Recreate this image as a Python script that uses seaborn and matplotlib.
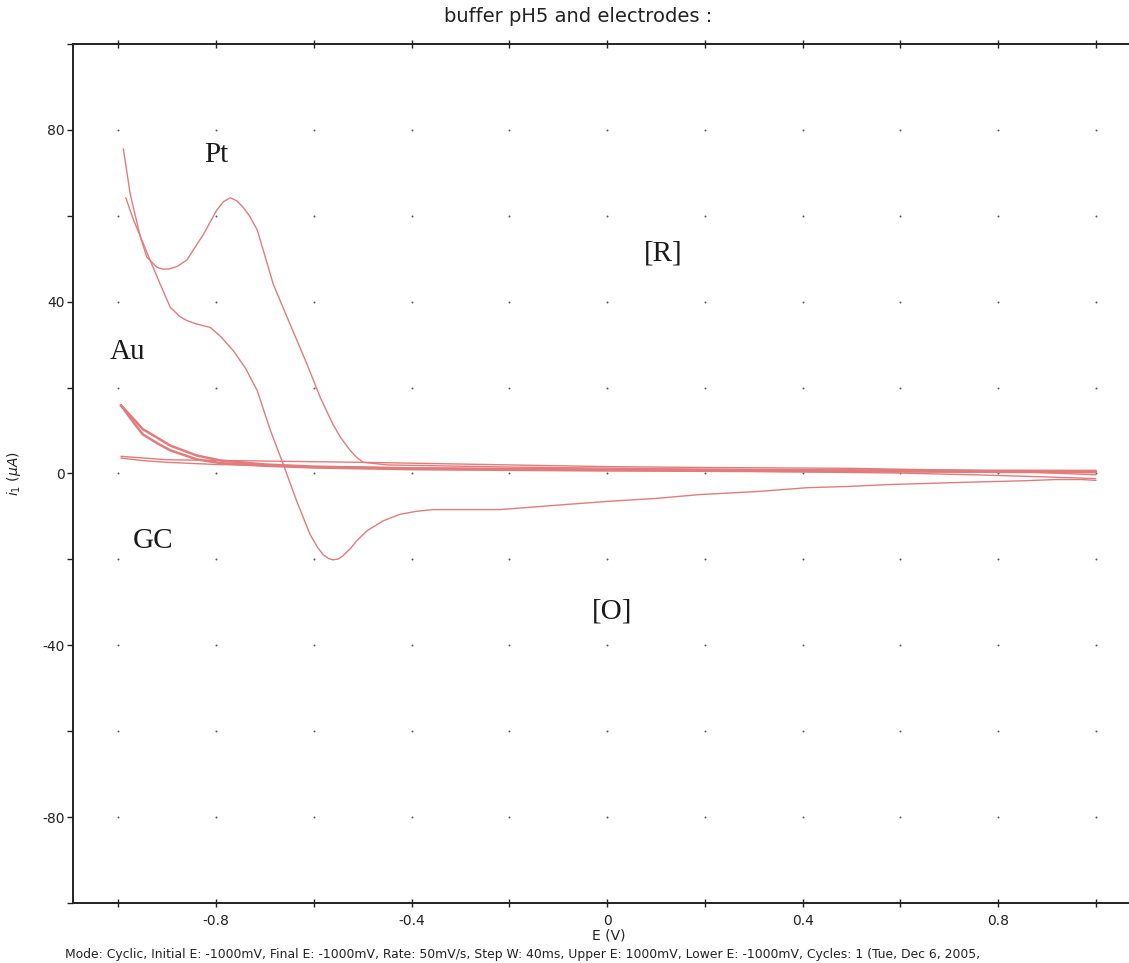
import numpy as np
import matplotlib
matplotlib.use("Agg")
import matplotlib.pyplot as plt
import seaborn as sns

# ---- cyclic voltammograms, buffer pH 5 (E in V, i in uA) ----
# Pt: anodic sweep (-1.0 -> +1.0 V)
pt_fwd_E = [-0.985, -0.969, -0.949, -0.935, -0.915, -0.894, -0.875, -0.860, -0.840,
            -0.812, -0.790, -0.765, -0.740, -0.716, -0.689, -0.662, -0.635, -0.608,
            -0.592, -0.581, -0.570, -0.561, -0.550, -0.540, -0.525, -0.512, -0.491,
            -0.458, -0.424, -0.390, -0.356, -0.219, -0.082, 0.0,
            0.10, 0.19, 0.307, 0.41, 0.497, 0.57, 0.716, 0.85, 0.92, 0.97, 1.0]
pt_fwd_i = [64.2, 59.0, 53.5, 49.6, 44.2, 38.7, 36.6, 35.6, 34.8,
            34.0, 31.8, 28.6, 24.5, 19.3, 10.0, 1.9, -6.5, -14.2,
            -17.3, -18.9, -19.8, -20.1, -19.9, -19.1, -17.4, -15.6, -13.3,
            -11.0, -9.5, -8.8, -8.4, -8.4, -7.2, -6.5,
            -5.8, -4.9, -4.2, -3.3, -3.0, -2.6, -2.1, -1.7, -1.4, -1.4, -1.6]
# Pt: cathodic sweep (+1.0 -> -1.0 V)
pt_rev_E = [1.0, 0.6, 0.2, -0.2, -0.45, -0.499, -0.512, -0.526, -0.545, -0.561,
            -0.587, -0.614, -0.649, -0.683, -0.716, -0.732, -0.745, -0.758, -0.771,
            -0.785, -0.799, -0.826, -0.860, -0.880, -0.897, -0.910, -0.921, -0.942,
            -0.955, -0.976, -0.990]
pt_rev_i = [0.4, 0.8, 1.0, 1.5, 2.0, 2.6, 3.7, 5.4, 8.3, 11.4,
            17.7, 25.4, 34.8, 44.0, 56.7, 60.0, 62.0, 63.5, 64.2,
            63.3, 61.3, 55.7, 49.7, 48.2, 47.6, 47.6, 48.0, 50.4,
            55.0, 65.1, 75.6]

# Au: anodic / cathodic sweeps
au_fwd_E = [-0.995, -0.97, -0.95, -0.92, -0.894, -0.84, -0.79, -0.70, -0.60, -0.40, 0.0, 0.5, 1.0]
au_fwd_i = [15.9, 12.0, 9.1, 7.0, 5.4, 3.3, 2.4, 1.8, 1.4, 1.0, 0.7, 0.5, 0.3]
au_rev_E = [1.0, 0.5, 0.0, -0.40, -0.60, -0.70, -0.79, -0.84, -0.894, -0.92, -0.95, -0.97, -0.995]
au_rev_i = [0.6, 0.7, 0.9, 1.2, 1.6, 2.1, 3.0, 4.2, 6.5, 8.3, 10.3, 12.8, 15.9]

# GC: anodic / cathodic sweeps
gc_fwd_E = [-0.995, -0.95, -0.90, -0.80, -0.60, -0.40, -0.20, 0.0, 0.30, 0.60, 0.75, 0.90, 1.0]
gc_fwd_i = [3.6, 3.0, 2.6, 2.1, 1.6, 1.3, 1.1, 0.9, 0.5, 0.1, -0.3, -0.8, -1.2]
gc_rev_E = [1.0, 0.80, 0.50, 0.20, 0.0, -0.30, -0.50, -0.70, -0.90, -0.995]
gc_rev_i = [-0.3, 0.6, 1.2, 1.4, 1.6, 2.2, 2.6, 2.9, 3.2, 4.0]

# axis ticks
x_major = [-0.8, -0.4, 0.0, 0.4, 0.8]
x_labels = ["-0.8", "-0.4", "0", "0.4", "0.8"]
x_minor = [-1.0, -0.6, -0.2, 0.2, 0.6, 1.0]
y_major = [80, 40, 0, -40, -80]
y_labels = ["80", "40", "0", "-40", "-80"]
y_minor = [100, 60, 20, -20, -60, -100]

# annotation labels
label_text = ["Pt", "Au", "GC", "[R]", "[O]"]
label_E = [-0.80, -0.982, -0.929, 0.115, 0.01]
label_i = [74.2, 28.3, -15.8, 51.2, -32.1]

title = "buffer pH5 and electrodes :"
note = ("Mode: Cyclic, Initial E: -1000mV, Final E: -1000mV, Rate: 50mV/s, Step W: 40ms, "
        "Upper E: 1000mV, Lower E: -1000mV, Cycles: 1 (Tue, Dec 6, 2005,")

sns.set_style("white")
plt.rcParams["font.family"] = ["DejaVu Sans"]

W, H = 1129, 963
fig = plt.figure(figsize=(W / 100, H / 100), dpi=100)
left_px, top_px, bottom_px = 73, 44, 903
ax = fig.add_axes([left_px / W, 1 - bottom_px / H, 1071.8 / W, (bottom_px - top_px) / H])
ax.set_xlim(-1.093, 1.1)
ax.set_ylim(-100, 100)

curve_color = "#e27c7c"
branches = [
    (pt_fwd_E, pt_fwd_i, 1.0),
    (pt_rev_E, pt_rev_i, 1.0),
    (gc_fwd_E, gc_fwd_i, 1.0),
    (gc_rev_E, gc_rev_i, 1.0),
    (au_fwd_E, au_fwd_i, 1.8),
    (au_rev_E, au_rev_i, 1.8),
]
for xs, ys, lw in branches:
    sns.lineplot(x=xs, y=ys, sort=False, ax=ax, color=curve_color, lw=lw,
                 estimator=None)

# dotted grid at the tick intersections
gx, gy = np.meshgrid(sorted(x_major + x_minor), [v for v in sorted(y_major + y_minor) if abs(v) < 100])
ax.scatter(gx.ravel(), gy.ravel(), s=2.0, color="#555555", linewidths=0, zorder=1)

for txt, ex, iy in zip(label_text, label_E, label_i):
    ax.text(ex, iy, txt, ha="center", va="center", fontsize=21,
            family="Liberation Serif", color="#1a1a1a", zorder=5)

ax.set_xticks(x_major)
ax.set_xticklabels(x_labels)
ax.set_xticks(x_minor, minor=True)
ax.set_yticks(y_major)
ax.set_yticklabels(y_labels)
ax.set_yticks(y_minor, minor=True)
ax.tick_params(axis="x", which="both", direction="inout", length=6, width=1,
               top=True, bottom=True, labelsize=10, colors="#222222", pad=5)
ax.tick_params(axis="y", which="both", direction="out", length=4, width=1,
               left=True, labelsize=10, colors="#222222", pad=2)
for s in ["left", "top", "bottom"]:
    ax.spines[s].set_color("#222222")
    ax.spines[s].set_linewidth(1.4)
ax.spines["right"].set_visible(False)

ax.set_xlabel("E (V)", fontsize=10, color="#222222", labelpad=0)
ax.set_ylabel(r"$i_1$ $(\mu A)$", fontsize=10, color="#222222", labelpad=14)

fig.text(578 / W, 1 - 17 / H, title, ha="center", va="center", fontsize=14, color="#222222")
fig.text(65 / W, 1 - 954 / H, note, ha="left", va="center", fontsize=8.9, color="#222222")

fig.savefig("out.png", dpi=100)
